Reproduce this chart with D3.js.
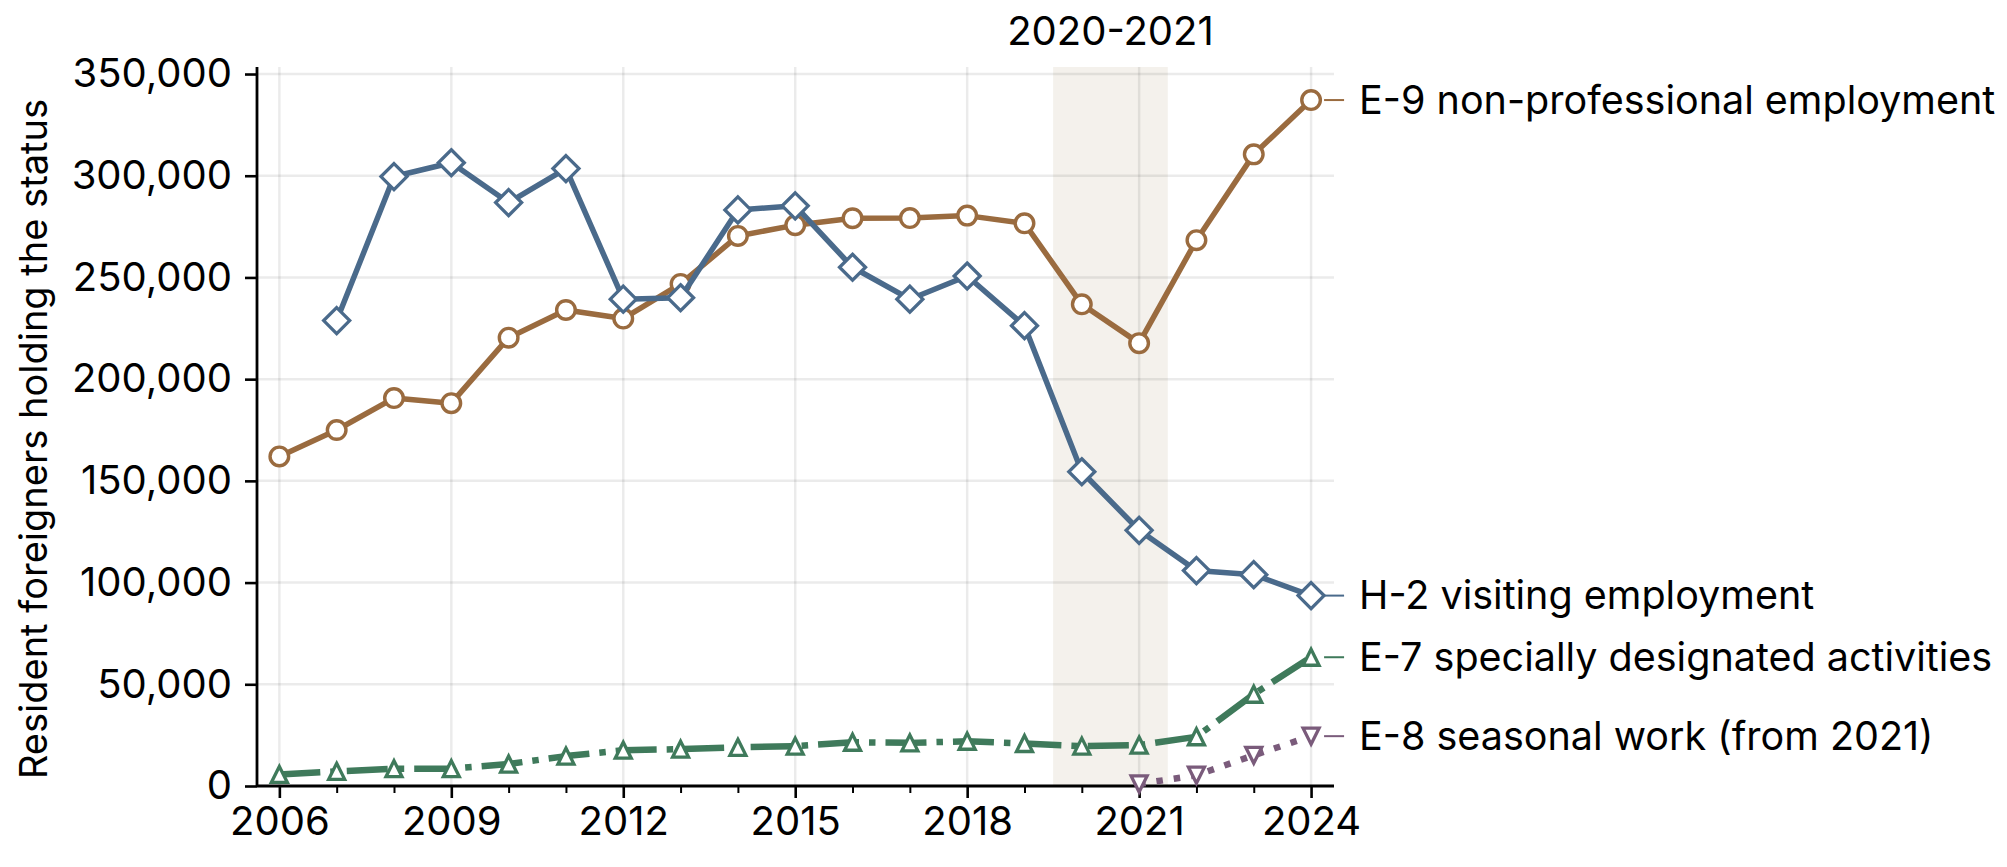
<!DOCTYPE html>
<html>
<head>
<meta charset="utf-8">
<script src="https://cdn.jsdelivr.net/npm/d3@7"></script>
<style>
  body { margin: 0; background: #fff; }
  svg { display: block; font-family: Inter, "Noto Sans", sans-serif; }
</style>
</head>
<body>
<script>
// data
var years = [2006, 2007, 2008, 2009, 2010, 2011, 2012, 2013, 2014, 2015,
             2016, 2017, 2018, 2019, 2020, 2021, 2022, 2023, 2024];
var e9 = [162000, 175000, 190700, 188200, 220400, 234000, 229800, 246800, 270400, 275700,
          279100, 279200, 280400, 276600, 236800, 217700, 268300, 310500, 337200];
var h2 = [null, 228800, 299600, 306400, 286800, 303500, 239300, 240000, 283200, 285200,
          255000, 239300, 250700, 226300, 154500, 125700, 105900, 103900, 93600];
var e7 = [5700, 7200, 8500, 8500, 10800, 14700, 17600, 18100, 19000, 19600,
          21500, 21200, 22000, 20900, 19600, 20100, 24200, 45100, 63300];
var e8 = [null, null, null, null, null, null, null, null, null, null,
          null, null, null, null, null, 1000, 5300, 15100, 24500];
var yTicks = [0, 50000, 100000, 150000, 200000, 250000, 300000, 350000];
var xTicks = [2006, 2009, 2012, 2015, 2018, 2021, 2024];
var series = [
  {name: "E-9 non-professional employment", values: e9, color: "#9a6b3f", marker: "circle", dash: null, width: 5.5},
  {name: "H-2 visiting employment", values: h2, color: "#4a6a8b", marker: "diamond", dash: null, width: 5.5},
  {name: "E-7 specially designated activities", values: e7, color: "#3f7a5b", marker: "up", dash: "41,10,6.5,10", width: 6.5},
  {name: "E-8 seasonal work (from 2021)", values: e8, color: "#7a5b7b", marker: "down", dash: "6.5,11", width: 6.5}
];
var bandYears = [2019.5, 2021.5];
var bandLabel = "2020-2021";
var yTitle = "Resident foreigners holding the status";

var width = 2007, height = 867;
var svg = d3.select("body").append("svg")
  .attr("width", width)
  .attr("height", height);

var x = d3.scaleLinear().domain([2005.61, 2024.4]).range([257, 1334]);
var y = d3.scaleLinear().domain([0, 353450]).range([786, 67]);

// shaded period
svg.append("rect")
  .attr("x", x(bandYears[0]))
  .attr("y", y.range()[1])
  .attr("width", x(bandYears[1]) - x(bandYears[0]))
  .attr("height", y.range()[0] - y.range()[1])
  .attr("fill", "#f4f1ec");

svg.append("text")
  .attr("x", x((bandYears[0] + bandYears[1]) / 2))
  .attr("y", 45)
  .attr("text-anchor", "middle")
  .attr("font-size", 40)
  .text(bandLabel);

// grid
var grid = svg.append("g").attr("stroke", "rgba(0,0,0,0.08)").attr("stroke-width", 2.5);
grid.selectAll(".gx").data(xTicks).join("line")
  .attr("x1", d => x(d)).attr("x2", d => x(d))
  .attr("y1", y.range()[0]).attr("y2", y.range()[1]);
grid.selectAll(".gy").data(yTicks).join("line")
  .attr("x1", x.range()[0]).attr("x2", x.range()[1])
  .attr("y1", d => y(d)).attr("y2", d => y(d));

// axes
var xAxis = d3.axisBottom(x).tickValues(xTicks).tickFormat(d3.format("d")).tickSize(12).tickPadding(9);
var gx = svg.append("g").attr("transform", "translate(0," + y.range()[0] + ")").call(xAxis);
var xMinor = d3.axisBottom(x).tickValues(years.filter(d => xTicks.indexOf(d) < 0)).tickSize(7).tickFormat("");
var gxm = svg.append("g").attr("transform", "translate(0," + y.range()[0] + ")").call(xMinor);
gxm.select(".domain").remove();
gxm.selectAll(".tick line").attr("stroke-width", 2);

var yAxis = d3.axisLeft(y).tickValues(yTicks).tickFormat(d3.format(",")).tickSize(12).tickPadding(13);
var gy = svg.append("g").attr("transform", "translate(" + x.range()[0] + ",0)").call(yAxis);

[gx, gy].forEach(function(g) {
  g.select(".domain").attr("stroke", "#000").attr("stroke-width", 2.8);
  g.selectAll(".tick line").attr("stroke", "#000").attr("stroke-width", 2.6);
  g.selectAll(".tick text").attr("fill", "#000").attr("font-size", 40)
    .attr("font-family", "Inter, 'Noto Sans', sans-serif");
});
gx.select(".domain").attr("d", "M" + x.range()[0] + ",0H" + x.range()[1]);
gy.select(".domain").attr("d", "M0," + y.range()[0] + "V" + y.range()[1]);

svg.append("text")
  .attr("transform", "translate(47,439) rotate(-90)")
  .attr("text-anchor", "middle")
  .attr("font-size", 38)
  .text(yTitle);

// series
var markerPath = {
  diamond: "M0,-13L13,0L0,13L-13,0Z",
  up: "M0,-8L8,8L-8,8Z",
  down: "M0,8L8,-8L-8,-8Z"
};

series.forEach(function(s) {
  var pts = years.map((yr, i) => ({x: yr, y: s.values[i]}));
  var line = d3.line()
    .defined(d => d.y !== null)
    .x(d => x(d.x))
    .y(d => y(d.y));
  var g = svg.append("g");
  g.append("path")
    .attr("d", line(pts))
    .attr("fill", "none")
    .attr("stroke", s.color)
    .attr("stroke-width", s.width)
    .attr("stroke-linejoin", "round")
    .attr("stroke-dasharray", s.dash);

  var valid = pts.filter(d => d.y !== null);
  if (s.marker === "circle") {
    g.selectAll("circle").data(valid).join("circle")
      .attr("cx", d => x(d.x)).attr("cy", d => y(d.y)).attr("r", 9.3)
      .attr("fill", "#fff").attr("stroke", s.color).attr("stroke-width", 3.4);
  } else {
    g.selectAll(".m").data(valid).join("path")
      .attr("transform", d => "translate(" + x(d.x) + "," + y(d.y) + ")")
      .attr("d", markerPath[s.marker])
      .attr("fill", "#fff").attr("stroke", s.color).attr("stroke-width", 3.3);
  }

  // end label
  var last = valid[valid.length - 1];
  var ly = y(last.y);
  g.append("line")
    .attr("x1", x(last.x) + 13).attr("x2", x(last.x) + 33)
    .attr("y1", ly).attr("y2", ly)
    .attr("stroke", s.color).attr("stroke-width", 2);
  g.append("text")
    .attr("x", x(last.x) + 48)
    .attr("y", ly)
    .attr("dy", "0.35em")
    .attr("font-size", 39.5)
    .attr("fill", "#000")
    .text(s.name);
});
</script>
</body>
</html>
